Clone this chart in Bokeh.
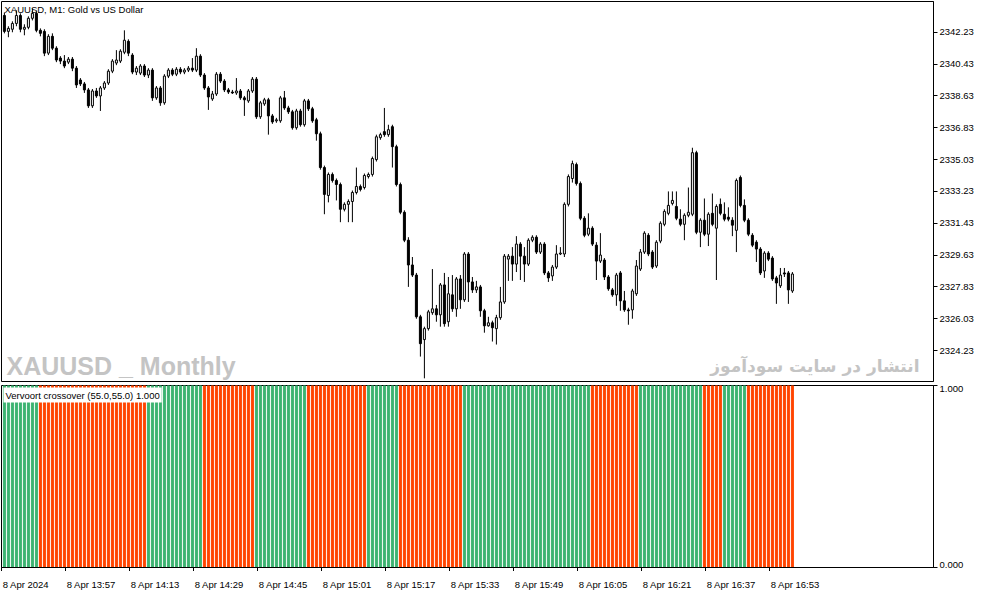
from bokeh.plotting import figure
from bokeh.layouts import column, row
from bokeh.models import Range1d, FixedTicker, Label, ColumnDataSource, PrintfTickFormatter
from bokeh.core.properties import value
from bokeh.embed import file_html
from bokeh.resources import INLINE

# ---------------- data (XAUUSD M1, 8 Apr 2024 13:41 .. 16:58) ----------------
open_ = [
    2343.18, 2342.28, 2342.40, 2342.73, 2343.18, 2342.40, 2342.51, 2343.02, 2343.30, 2342.34,
    2342.28, 2341.05, 2342.00, 2341.33, 2340.77, 2340.60, 2340.54, 2340.71, 2340.20, 2339.53,
    2339.31, 2338.97, 2338.07, 2338.91, 2338.63, 2339.08, 2339.36, 2340.03, 2340.49, 2340.60,
    2341.10, 2341.72, 2340.94, 2339.98, 2339.92, 2340.32, 2339.81, 2340.09, 2338.52, 2339.08,
    2338.24, 2339.75, 2340.09, 2339.86, 2340.14, 2339.98, 2340.09, 2340.20, 2340.09, 2340.88,
    2339.81, 2339.08, 2338.46, 2338.74, 2339.86, 2339.47, 2338.97, 2338.85, 2338.80, 2338.91,
    2338.52, 2338.35, 2338.91, 2339.58, 2337.45, 2338.18, 2338.41, 2337.50, 2337.22, 2337.22,
    2338.52, 2337.95, 2337.73, 2336.83, 2337.78, 2337.00, 2338.35, 2337.90, 2337.28, 2336.49,
    2334.58, 2333.00, 2334.19, 2333.85, 2333.62, 2332.22, 2332.50, 2332.66, 2333.17, 2333.51,
    2333.45, 2334.07, 2334.19, 2335.03, 2336.27, 2336.61, 2336.44, 2336.89, 2335.76, 2333.62,
    2332.05, 2330.47, 2329.07, 2328.50, 2326.14, 2324.85, 2325.47, 2326.37, 2326.59, 2326.25,
    2327.94, 2325.86, 2327.38, 2326.59, 2328.28, 2327.10, 2329.69, 2328.11, 2327.66, 2327.83,
    2326.48, 2325.63, 2325.80, 2325.47, 2326.09, 2326.98, 2329.40, 2329.57, 2329.12, 2330.25,
    2329.57, 2329.12, 2330.47, 2330.64, 2329.80, 2330.25, 2328.62, 2328.45, 2328.95, 2329.69,
    2329.69, 2332.50, 2333.96, 2334.75, 2333.68, 2331.71, 2330.81, 2331.15, 2330.19, 2329.29,
    2329.35, 2328.39, 2327.66, 2327.38, 2328.62, 2327.04, 2326.53, 2326.53, 2327.44, 2328.84,
    2329.80, 2330.75, 2329.80, 2329.01, 2330.42, 2331.37, 2331.99, 2332.55, 2332.38, 2331.66,
    2331.37, 2331.88, 2331.94, 2335.42, 2330.92, 2331.60, 2330.81, 2331.99, 2331.15, 2332.50,
    2331.94, 2331.77, 2331.60, 2331.03, 2334.02, 2332.44, 2331.60, 2330.75, 2330.36, 2329.97,
    2328.73, 2329.74, 2329.46, 2328.34, 2327.89, 2328.62, 2328.62, 2327.60,
]
high = [
    2343.35, 2342.57, 2342.85, 2343.47, 2343.30, 2342.68, 2343.13, 2343.58, 2343.41, 2342.45,
    2342.40, 2342.12, 2342.17, 2341.44, 2340.88, 2340.94, 2340.83, 2340.83, 2340.32, 2339.64,
    2339.42, 2339.08, 2339.02, 2339.08, 2339.19, 2339.47, 2340.14, 2340.71, 2341.22, 2341.27,
    2342.34, 2341.83, 2341.05, 2340.32, 2340.43, 2340.43, 2340.20, 2340.20, 2339.19, 2339.19,
    2339.86, 2340.20, 2340.20, 2340.26, 2340.26, 2340.20, 2340.32, 2340.77, 2341.33, 2340.99,
    2339.92, 2339.19, 2338.91, 2339.98, 2339.98, 2339.58, 2339.08, 2338.97, 2339.64, 2339.02,
    2338.63, 2339.02, 2339.70, 2339.70, 2338.35, 2338.52, 2338.52, 2337.61, 2337.39, 2338.63,
    2338.91, 2338.07, 2337.84, 2337.90, 2337.90, 2338.46, 2338.46, 2338.01, 2337.39, 2336.61,
    2334.69, 2334.30, 2334.30, 2333.96, 2333.73, 2332.61, 2332.78, 2333.28, 2334.58, 2333.62,
    2334.24, 2334.30, 2335.20, 2336.44, 2336.55, 2337.95, 2337.00, 2337.00, 2335.87, 2333.73,
    2332.16, 2330.64, 2329.52, 2328.62, 2326.25, 2325.58, 2326.53, 2328.84, 2326.81, 2328.05,
    2328.62, 2328.39, 2328.50, 2328.39, 2328.50, 2329.80, 2329.80, 2328.39, 2328.17, 2327.94,
    2326.59, 2326.14, 2325.92, 2326.25, 2327.83, 2329.69, 2329.69, 2330.08, 2330.70, 2330.36,
    2330.08, 2330.58, 2330.75, 2330.75, 2330.36, 2330.36, 2328.73, 2329.07, 2330.19, 2330.08,
    2332.61, 2334.19, 2334.97, 2334.86, 2333.79, 2331.83, 2331.99, 2331.26, 2330.36, 2330.87,
    2329.46, 2328.50, 2327.77, 2328.62, 2328.73, 2327.60, 2326.65, 2327.72, 2329.35, 2329.97,
    2330.98, 2330.87, 2329.91, 2330.47, 2331.54, 2332.22, 2333.23, 2333.23, 2333.23, 2332.22,
    2331.99, 2333.45, 2335.70, 2335.53, 2331.71, 2332.83, 2332.05, 2333.11, 2332.50, 2332.83,
    2332.61, 2332.33, 2331.77, 2333.96, 2334.13, 2332.78, 2331.71, 2330.87, 2330.47, 2330.08,
    2329.85, 2329.85, 2329.57, 2328.45, 2328.90, 2328.90, 2328.73, 2328.67,
]
low = [
    2342.17, 2341.95, 2342.23, 2342.57, 2342.23, 2342.06, 2342.40, 2342.90, 2342.23, 2342.00,
    2340.88, 2340.94, 2341.22, 2340.54, 2340.43, 2340.20, 2340.43, 2340.03, 2339.08, 2339.19,
    2338.80, 2337.95, 2337.95, 2338.52, 2337.78, 2338.97, 2339.25, 2339.92, 2340.37, 2340.49,
    2340.99, 2340.88, 2339.86, 2339.81, 2339.81, 2339.70, 2339.64, 2338.35, 2338.41, 2338.07,
    2338.13, 2339.64, 2339.75, 2339.75, 2339.86, 2339.86, 2339.98, 2339.98, 2339.98, 2339.70,
    2338.97, 2337.84, 2338.35, 2338.63, 2339.36, 2338.85, 2338.74, 2338.74, 2338.69, 2338.41,
    2337.50, 2338.24, 2338.80, 2337.33, 2337.33, 2338.07, 2336.44, 2337.05, 2337.11, 2337.11,
    2337.84, 2337.61, 2336.72, 2336.72, 2336.89, 2336.89, 2337.78, 2337.11, 2336.10, 2334.46,
    2331.94, 2332.61, 2333.73, 2332.72, 2331.49, 2332.10, 2331.49, 2331.49, 2333.06, 2333.23,
    2333.34, 2333.96, 2334.07, 2334.92, 2336.15, 2336.32, 2336.32, 2334.58, 2333.51, 2331.94,
    2330.36, 2327.83, 2328.39, 2326.03, 2323.89, 2322.66, 2325.36, 2326.25, 2325.86, 2325.58,
    2325.58, 2325.58, 2326.42, 2326.14, 2326.59, 2326.98, 2326.98, 2327.49, 2327.49, 2326.14,
    2325.24, 2325.58, 2324.74, 2324.57, 2325.97, 2326.87, 2328.17, 2328.17, 2328.67, 2328.22,
    2328.11, 2329.01, 2330.36, 2329.69, 2329.69, 2328.50, 2328.11, 2328.17, 2328.84, 2329.63,
    2329.52, 2332.38, 2333.73, 2333.56, 2331.60, 2330.64, 2330.70, 2330.14, 2328.22, 2329.18,
    2328.22, 2327.61, 2327.27, 2326.76, 2326.48, 2326.42, 2325.69, 2326.03, 2327.32, 2328.73,
    2329.69, 2329.57, 2328.84, 2328.90, 2330.30, 2331.26, 2331.88, 2332.44, 2331.60, 2331.26,
    2330.47, 2331.77, 2331.83, 2330.81, 2330.08, 2330.70, 2330.14, 2331.26, 2328.22, 2331.88,
    2331.54, 2331.54, 2330.70, 2329.80, 2332.33, 2331.49, 2330.70, 2330.08, 2329.24, 2328.50,
    2328.34, 2329.29, 2328.17, 2326.87, 2327.77, 2328.39, 2326.87, 2327.49,
]
close_ = [
    2342.28, 2342.45, 2342.73, 2343.18, 2342.40, 2342.51, 2343.02, 2343.30, 2342.34, 2342.17,
    2341.05, 2342.00, 2341.33, 2340.66, 2340.60, 2340.32, 2340.71, 2340.20, 2339.25, 2339.31,
    2338.97, 2338.07, 2338.91, 2338.63, 2339.08, 2339.36, 2340.03, 2340.60, 2340.66, 2341.16,
    2341.78, 2341.05, 2339.98, 2340.20, 2340.32, 2339.81, 2340.09, 2338.52, 2339.08, 2338.24,
    2339.75, 2340.09, 2339.86, 2340.14, 2339.98, 2340.09, 2340.20, 2340.09, 2340.88, 2339.81,
    2339.08, 2338.57, 2338.74, 2339.86, 2339.47, 2338.97, 2338.85, 2338.80, 2338.91, 2338.52,
    2338.41, 2338.91, 2339.58, 2337.45, 2338.24, 2338.41, 2337.50, 2337.16, 2337.28, 2338.52,
    2337.95, 2337.73, 2336.83, 2337.78, 2337.00, 2338.35, 2337.90, 2337.22, 2336.49, 2334.58,
    2333.06, 2334.19, 2333.85, 2333.62, 2332.22, 2332.50, 2332.66, 2333.17, 2333.51, 2333.34,
    2334.13, 2334.19, 2335.09, 2336.32, 2336.44, 2336.44, 2336.72, 2335.76, 2333.62, 2332.05,
    2330.47, 2329.07, 2328.50, 2326.14, 2324.62, 2325.47, 2326.42, 2326.59, 2326.25, 2327.94,
    2325.75, 2327.44, 2326.59, 2328.28, 2327.10, 2329.69, 2328.11, 2327.66, 2327.83, 2326.48,
    2325.63, 2325.80, 2325.52, 2326.09, 2326.98, 2329.57, 2329.57, 2329.12, 2330.25, 2329.57,
    2329.12, 2330.47, 2330.64, 2329.80, 2330.25, 2328.62, 2328.34, 2328.95, 2329.69, 2329.74,
    2332.50, 2334.07, 2334.80, 2333.68, 2331.71, 2330.75, 2331.15, 2330.25, 2329.29, 2329.63,
    2328.39, 2327.72, 2327.38, 2328.50, 2327.04, 2326.53, 2326.48, 2327.60, 2329.01, 2329.80,
    2330.87, 2329.69, 2328.95, 2330.36, 2331.43, 2332.10, 2332.44, 2332.72, 2331.71, 2331.37,
    2331.88, 2332.05, 2335.42, 2330.92, 2331.60, 2330.81, 2331.94, 2331.37, 2332.38, 2331.99,
    2331.66, 2331.66, 2331.32, 2333.85, 2332.44, 2331.60, 2330.81, 2330.19, 2329.97, 2328.62,
    2329.74, 2329.40, 2328.28, 2328.05, 2328.50, 2328.56, 2327.66, 2328.56,
]
# Vervoort crossover colour index: 1 = up (green), 0 = down (orange-red)
trend = [
    1, 1, 1, 1, 1, 1, 1, 1, 1,
    0, 0, 0, 0, 0, 0, 0, 0, 0, 0, 0, 0, 0, 0, 0, 0, 0, 0, 0, 0, 0, 0, 0, 0, 0, 0, 0,
    1, 1, 1, 1, 1, 1, 1, 1, 1, 1, 1, 1, 1, 1,
    0, 0, 0, 0, 0, 0, 0, 0, 0, 0, 0, 0, 0,
    1, 1, 1, 1, 1, 1, 1, 1, 1, 1, 1, 1, 1,
    0, 0, 0, 0, 0, 0, 0, 0, 0, 0, 0, 0, 0, 0, 0,
    1, 1, 1, 1, 1, 1, 1, 1,
    0, 0, 0, 0, 0, 0, 0, 0, 0, 0, 0, 0, 0, 0, 0, 0,
    1, 1, 1, 1, 1, 1, 1, 1, 1, 1, 1, 1, 1, 1, 1, 1,
    1, 1, 1, 1, 1, 1, 1, 1, 1, 1, 1, 1, 1, 1, 1, 1,
    0, 0, 0, 0, 0, 0, 0, 0, 0, 0, 0, 0,
    1, 1, 1, 1, 1, 1, 1, 1, 1, 1, 1, 1, 1, 1, 1, 1,
    0, 0, 0, 0, 0,
    1, 1, 1, 1, 1, 1,
    0, 0, 0, 0, 0, 0, 0, 0, 0, 0, 0, 0,
]
indicator_level = 1.0
indicator_ticks = [0.0, 1.0]
price_ticks = [2324.23, 2326.03, 2327.83, 2329.63, 2331.43, 2333.23,
               2335.03, 2336.83, 2338.63, 2340.43, 2342.23]
time_tick_bars = [0, 16, 32, 48, 64, 80, 96, 112, 128, 144, 160, 176, 192]
time_tick_labels = ["8 Apr 2024", "8 Apr 13:57", "8 Apr 14:13", "8 Apr 14:29",
                    "8 Apr 14:45", "8 Apr 15:01", "8 Apr 15:17", "8 Apr 15:33",
                    "8 Apr 15:49", "8 Apr 16:05", "8 Apr 16:21", "8 Apr 16:37",
                    "8 Apr 16:53"]
title_text = "XAUUSD, M1:  Gold vs US Dollar"
indicator_text = "Vervoort crossover (55.0,55.0) 1.000"
watermark_left = "XAUUSD _ Monthly"
watermark_right = "انتشار در سایت سودآموز"

# ---------------- layout ----------------
FONT = "Liberation Sans"
FS = "9.5px"
FRAME_W = 932
MAIN_H = 380
IND_H = 182
SIDE_PAD = 10              # extra room under the "0.000" label
BAR_SHIFT = 0.675          # bar centre sits a little right of its time tick
X_START = -0.05
X_END = X_START + FRAME_W / 4.0
P_LO, P_HI = 2322.48, 2343.97

n = len(close_)
xs = [i + BAR_SHIFT for i in range(n)]

src = ColumnDataSource(dict(
    x=xs, o=open_, h=high, l=low, c=close_,
    top=[max(a, b) for a, b in zip(open_, close_)],
    bot=[min(a, b) for a, b in zip(open_, close_)],
    fill=["white" if c >= o else "black" for o, c in zip(open_, close_)],
))

x_range = Range1d(X_START, X_END)


def plain(fig):
    fig.xgrid.visible = False
    fig.ygrid.visible = False
    fig.background_fill_color = "white"
    fig.border_fill_color = "white"


# ---- price pane ----
main = figure(frame_width=FRAME_W, frame_height=MAIN_H, x_range=x_range,
              y_range=Range1d(P_LO, P_HI), x_axis_location=None,
              y_axis_location="right", toolbar_location=None,
              output_backend="svg", min_border_left=1, min_border_top=1,
              min_border_bottom=2, min_border_right=44)
plain(main)
main.outline_line_color = "black"

ya = main.yaxis[0]
ya.ticker = FixedTicker(ticks=price_ticks)
ya.formatter = PrintfTickFormatter(format="%.2f")
ya.major_tick_out = 4
ya.major_tick_in = 0
ya.minor_tick_out = 0
ya.minor_tick_in = 0
ya.axis_line_color = "black"
ya.major_label_text_font = FONT
ya.major_label_text_font_size = FS
ya.major_label_text_color = "black"
ya.major_label_standoff = 2

main.segment(x0="x", y0="l", x1="x", y1="h", source=src,
             line_color="black", line_width=1)
main.vbar(x="x", top="top", bottom="bot", width=0.5, source=src,
          fill_color="fill", line_color="black", line_width=1)

main.add_layout(Label(x=X_START, y=P_HI, x_offset=3, y_offset=-2,
                      text=title_text, text_font=FONT, text_font_size=FS,
                      text_color="black", text_baseline="top"))
main.add_layout(Label(x=X_START, y=P_LO, x_offset=5, y_offset=2,
                      text=watermark_left, text_font="Liberation Sans",
                      text_font_size="25px", text_font_style="bold",
                      text_color="#c4c4c4", text_baseline="bottom"))
main.add_layout(Label(x=X_END, y=P_LO, x_offset=-14, y_offset=6,
                      text=watermark_right, text_font="DejaVu Sans",
                      text_font_size="17px", text_font_style="bold",
                      text_color="#c4c4c4", text_align="right",
                      text_baseline="bottom"))

# ---- indicator pane ----
ind = figure(frame_width=FRAME_W, frame_height=IND_H, x_range=x_range,
             y_range=Range1d(0, 1), y_axis_location="right",
             toolbar_location=None, output_backend="svg",
             min_border_left=1, min_border_top=2, min_border_right=5,
             min_border_bottom=4)
plain(ind)
ind.outline_line_color = "black"

colors = ["#3CB371" if t == 1 else "#FF4500" for t in trend]
ind.vbar(x=xs, top=indicator_level, bottom=0, width=0.5, color=colors)

iy = ind.yaxis[0]
iy.ticker = FixedTicker(ticks=indicator_ticks)
iy.major_label_overrides = {t: "" for t in indicator_ticks}
iy.major_tick_out = 4
iy.major_tick_in = 0
iy.minor_tick_out = 0
iy.minor_tick_in = 0
iy.axis_line_color = "black"
iy.major_label_standoff = 0

xa = ind.xaxis[0]
xa.ticker = FixedTicker(ticks=time_tick_bars)
xa.major_label_overrides = {t: "" for t in time_tick_bars}
xa.major_tick_out = 4
xa.major_tick_in = 0
xa.minor_tick_out = 0
xa.minor_tick_in = 0
xa.axis_line_color = "black"
xa.major_label_standoff = 0

ind.add_layout(Label(x=X_START, y=1, x_offset=2, y_offset=-2, text=indicator_text,
                     text_font=FONT, text_font_size=FS, text_color="black",
                     text_baseline="top", background_fill_color="white",
                     padding=2))

# value labels of the indicator scale (top one below its tick, bottom one above)
side = figure(frame_width=38, frame_height=IND_H + SIDE_PAD, x_range=Range1d(0, 38),
              y_range=Range1d(-SIDE_PAD / IND_H, 1), x_axis_location=None,
              y_axis_location=None, toolbar_location=None, output_backend="svg",
              min_border_left=0, min_border_right=0, min_border_top=2,
              min_border_bottom=0)
plain(side)
side.outline_line_color = None
side.text(x=[1], y=[indicator_ticks[1]], text=["%.3f" % indicator_ticks[1]],
          text_font=value(FONT), text_font_size=FS, text_color="black",
          text_baseline="top", text_align="left")
side.text(x=[1], y=[indicator_ticks[0]], text=["%.3f" % indicator_ticks[0]],
          text_font=value(FONT), text_font_size=FS, text_color="black",
          text_baseline="bottom", text_align="left")

# time labels, left-aligned at their ticks
strip = figure(frame_width=FRAME_W, frame_height=14, x_range=x_range,
               y_range=Range1d(-1, 1), x_axis_location=None, y_axis_location=None,
               toolbar_location=None, output_backend="svg",
               min_border_left=1, min_border_right=0, min_border_top=0,
               min_border_bottom=0)
plain(strip)
strip.outline_line_color = None
strip.text(x=time_tick_bars, y=[0] * len(time_tick_bars), text=time_tick_labels,
           x_offset=1, text_font=value(FONT), text_font_size=FS,
           text_color="black", text_baseline="middle", text_align="left")

layout = column(main, row(ind, side, spacing=0), strip, spacing=0)
open("out.html", "w").write(file_html(layout, INLINE))
